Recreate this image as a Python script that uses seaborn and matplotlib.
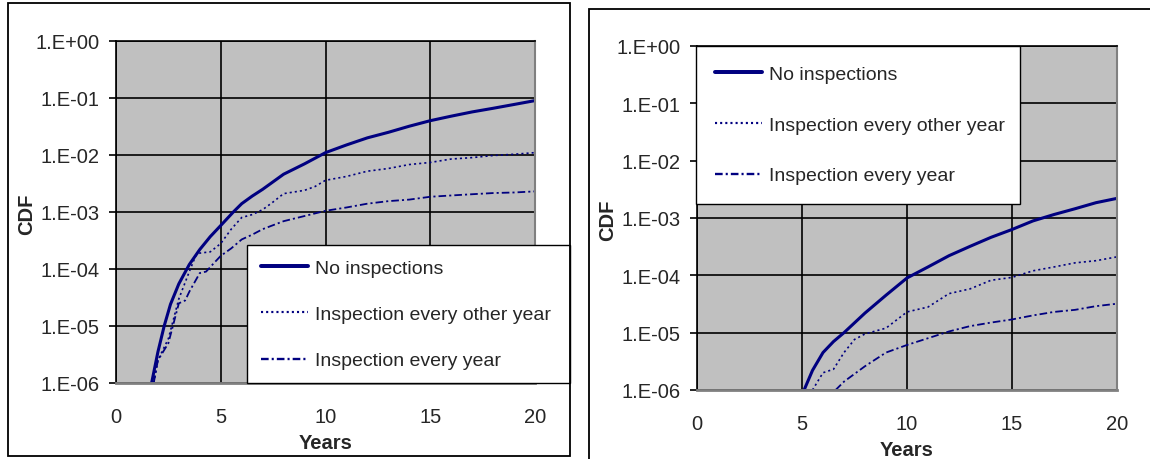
import numpy as np
import matplotlib
matplotlib.use("Agg")
import matplotlib.pyplot as plt
import matplotlib.ticker as mticker
from matplotlib.patches import Rectangle
import seaborn as sns

# left chart: failure CDF over years
left_none_x = [1.7, 2.0, 2.3, 2.6, 3.0, 3.5, 4.0, 4.5, 5.0, 5.6, 6.0, 6.5, 7.0, 8.0, 9.0,
               10.0, 11.0, 12.0, 13.0, 14.0, 15.0, 16.0, 17.0, 18.0, 19.0, 20.0]
left_none_y = [1e-6, 3.5e-6, 1e-5, 2.4e-5, 5.5e-5, 1.2e-4, 2.2e-4, 3.7e-4, 5.8e-4, 1e-3,
               1.4e-3, 1.9e-3, 2.5e-3, 4.6e-3, 7e-3, 1.1e-2, 1.5e-2, 2e-2, 2.5e-2, 3.2e-2,
               4e-2, 4.8e-2, 5.7e-2, 6.6e-2, 7.7e-2, 9e-2]

left_other_x = [1.8, 2.0, 2.5, 3.0, 3.5, 3.8, 4.0, 4.5, 5.0, 5.5, 6.0, 6.5, 7.0, 7.5, 8.0,
                9.0, 9.5, 10.0, 11.0, 12.0, 13.0, 14.0, 15.0, 16.0, 17.0, 18.0, 19.0, 20.0]
left_other_y = [1e-6, 2.5e-6, 6e-6, 3e-5, 9e-5, 1.7e-4, 1.9e-4, 2e-4, 2.8e-4, 5e-4, 8e-4,
                9e-4, 1.1e-3, 1.5e-3, 2.1e-3, 2.4e-3, 2.8e-3, 3.6e-3, 4.2e-3, 5.2e-3, 5.8e-3,
                6.8e-3, 7.4e-3, 8.5e-3, 9e-3, 9.8e-3, 1.03e-2, 1.1e-2]

left_every_x = [1.8, 2.0, 2.5, 3.0, 3.3, 3.5, 4.0, 4.3, 4.7, 5.0, 5.5, 6.0, 6.5, 7.0, 8.0,
                9.0, 10.0, 11.0, 12.0, 13.0, 14.0, 15.0, 16.0, 17.0, 18.0, 19.0, 20.0]
left_every_y = [1e-6, 2.5e-6, 5e-6, 2.5e-5, 2.8e-5, 4e-5, 8.5e-5, 9e-5, 1.3e-4, 1.7e-4,
                2.3e-4, 3.3e-4, 4e-4, 5e-4, 6.9e-4, 8.5e-4, 1.05e-3, 1.2e-3, 1.4e-3, 1.55e-3,
                1.65e-3, 1.85e-3, 1.95e-3, 2.05e-3, 2.15e-3, 2.2e-3, 2.3e-3]

# right chart
right_none_x = [5.1, 5.5, 6.0, 6.5, 7.0, 8.0, 9.0, 10.0, 11.0, 12.0, 13.0, 14.0, 15.0,
                16.0, 17.0, 18.0, 19.0, 20.0]
right_none_y = [1e-6, 2.2e-6, 4.5e-6, 7e-6, 1e-5, 2.2e-5, 4.5e-5, 9e-5, 1.4e-4, 2.2e-4,
                3.2e-4, 4.6e-4, 6.3e-4, 8.9e-4, 1.15e-3, 1.45e-3, 1.85e-3, 2.2e-3]

right_other_x = [5.5, 6.0, 6.5, 7.0, 7.5, 8.0, 9.0, 10.0, 11.0, 12.0, 13.0, 14.0, 15.0,
                 16.0, 17.0, 18.0, 19.0, 20.0]
right_other_y = [1e-6, 2e-6, 2.3e-6, 4.5e-6, 7.6e-6, 9.5e-6, 1.2e-5, 2.3e-5, 2.8e-5,
                 4.8e-5, 5.8e-5, 8.2e-5, 9.2e-5, 1.2e-4, 1.4e-4, 1.65e-4, 1.8e-4, 2.1e-4]

right_every_x = [6.6, 7.0, 8.0, 9.0, 10.0, 11.0, 12.0, 13.0, 14.0, 15.0, 16.0, 17.0, 18.0,
                 19.0, 20.0]
right_every_y = [1e-6, 1.4e-6, 2.6e-6, 4.5e-6, 6.1e-6, 8e-6, 1.05e-5, 1.3e-5, 1.5e-5,
                 1.7e-5, 2e-5, 2.3e-5, 2.5e-5, 2.9e-5, 3.2e-5]

labels = ["No inspections", "Inspection every other year", "Inspection every year"]
x_ticks = [0, 5, 10, 15, 20]
y_ticks = [1e-6, 1e-5, 1e-4, 1e-3, 1e-2, 1e-1, 1e0]

NAVY = "#000080"
FS = 14.5   # tick labels / axis titles
LFS = 14    # legend text

sns.set_style("white")
plt.rcParams["font.family"] = ["Liberation Sans", "DejaVu Sans"]
plt.rcParams["lines.scale_dashes"] = False

fig = plt.figure(figsize=(11.5, 4.6), dpi=100)

ax1 = fig.add_axes([116 / 1150, 1 - 384 / 460, 419 / 1150, 342 / 460])
ax2 = fig.add_axes([697 / 1150, 1 - 391 / 460, 420 / 1150, 344 / 460])


def sci_label(v, pos):
    return "1.E%+03d" % int(round(np.log10(v)))


def draw_panel(ax, series, legend_box, spacing, pad):
    styles = ["-", (0, (1.5, 2.2)), (0, (5.5, 2.2, 1.5, 2.2))]
    widths = [2.2, 1.2, 1.3]
    for (xs, ys), lab, ls, lw in zip(series, labels, styles, widths):
        sns.lineplot(x=xs, y=ys, ax=ax, color=NAVY, linestyle=ls, linewidth=lw,
                     label=lab, sort=False)
    ax.set_yscale("log")
    ax.set_xlim(0, 20)
    ax.set_ylim(1e-6, 1)
    ax.set_facecolor("#C0C0C0")
    ax.yaxis.set_major_locator(mticker.FixedLocator(y_ticks))
    ax.yaxis.set_minor_locator(mticker.NullLocator())
    ax.yaxis.set_major_formatter(mticker.FuncFormatter(sci_label))
    ax.xaxis.set_major_locator(mticker.FixedLocator(x_ticks))
    ax.grid(True, which="major", color="black", linewidth=1.2)
    ax.tick_params(axis="y", length=5, width=1.2, color="black", pad=7,
                   labelsize=FS, direction="out", left=True)
    ax.tick_params(axis="x", length=0, pad=17, labelsize=FS)
    for side in ["left", "top"]:
        ax.spines[side].set_color("black")
        ax.spines[side].set_linewidth(1.2)
    ax.spines["bottom"].set_color("#808080")
    ax.spines["bottom"].set_linewidth(2)
    ax.spines["right"].set_color("#808080")
    ax.spines["right"].set_linewidth(1.5)
    ax.set_xlabel("Years", fontsize=FS, fontweight="bold")
    ax.set_ylabel("CDF", fontsize=FS, fontweight="bold")
    ax.xaxis.set_label_coords(0.5, -0.145)
    ax.yaxis.set_label_coords(-0.19, 0.495)
    leg = ax.legend(loc="upper left", bbox_to_anchor=legend_box,
                    bbox_transform=fig.transFigure, mode="expand", fontsize=LFS,
                    frameon=True, fancybox=False, framealpha=1, edgecolor="black",
                    borderaxespad=0, handlelength=2.4, handletextpad=0.36,
                    labelspacing=spacing, borderpad=pad)
    leg.get_frame().set_linewidth(1.0)
    for line in leg.get_lines():
        line.set_linewidth(line.get_linewidth() * 1.3)


draw_panel(ax1,
           [(left_none_x, left_none_y), (left_other_x, left_other_y),
            (left_every_x, left_every_y)],
           (247 / 1150, 1 - 383 / 460, 323 / 1150, 137 / 460), 1.48, 0.72)
draw_panel(ax2,
           [(right_none_x, right_none_y), (right_other_x, right_other_y),
            (right_every_x, right_every_y)],
           (696 / 1150, 1 - 203 / 460, 324 / 1150, 156 / 460), 1.7, 1.0)

# chart area frames
fig.add_artist(Rectangle((8 / 1150, 3 / 460), 562 / 1150, 453 / 460,
                         transform=fig.transFigure, fill=False, ec="black", lw=1.3))
fig.add_artist(Rectangle((589 / 1150, -0.05), 0.6, 1 - 10 / 460 + 0.05,
                         transform=fig.transFigure, fill=False, ec="black", lw=1.3))

fig.savefig("out.png", dpi=100)
